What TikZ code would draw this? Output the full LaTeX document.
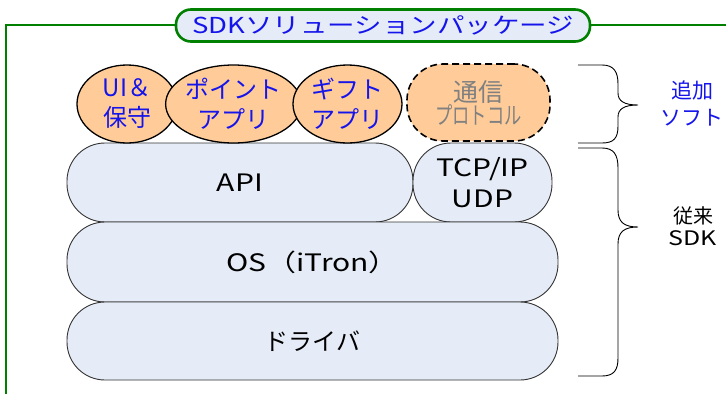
\documentclass[tikz,border=0pt]{standalone}
\usepackage{fontspec}
\setmainfont{Noto Sans CJK JP}
\newfontfamily\widejp[FakeStretch=1.25]{Noto Sans CJK JP}
\newfontfamily\narrowjp[FakeStretch=0.72]{Noto Sans CJK JP}
\usetikzlibrary{shapes.geometric}
\definecolor{framegreen}{RGB}{0,128,0}
\definecolor{titleblue}{RGB}{20,20,235}
\definecolor{layerblue}{RGB}{230,236,247}
\definecolor{apporange}{RGB}{255,204,153}
\definecolor{protogray}{RGB}{128,128,128}

\begin{document}
\begin{tikzpicture}[
		x=1pt, y=-1pt,
		every node/.style={inner sep=0pt, align=center},
		layer/.style={draw=black!80, fill=layerblue, rounded corners=38pt, line width=0.9pt,
			font=\fontsize{24}{31}\selectfont},
		app/.style={ellipse, draw, fill=apporange, line width=1.3pt, minimum height=78pt,
			text=titleblue, font=\fontsize{24}{30}\selectfont},
		brace/.style={line width=0.9pt},
		side/.style={font=\fontsize{21}{27}\selectfont}
	]
  \useasboundingbox (0,0) rectangle (726,394);
  % frame and title
  \draw[framegreen, line width=1.4pt] (726,25) -- (6,25) -- (6,394);
  \node (title) [draw=framegreen, line width=2.6pt, fill=layerblue, rounded corners=15pt,
    minimum width=414pt, minimum height=32pt, text=titleblue,
    font=\widejp\fontsize{22}{24}\selectfont] at (383,25.5) {SDKソリューションパッケージ};
  % base layers
  \node (api) [layer, minimum width=346pt, minimum height=79pt] at (240,182.5) {\widejp API};
  \node (tcp) [layer, minimum width=139pt, minimum height=79pt] at (482.5,182.5)
    {\widejp TCP/IP\\\widejp UDP};
  \node (os) [layer, minimum width=491pt, minimum height=80pt] at (312.5,262) {\widejp OS（iTron）};
  \node (drv) [layer, minimum width=491pt, minimum height=78pt] at (312.5,341) {ドライバ};
  % added software
  \node (ui) [app, minimum width=100pt] at (127,104) {UI＆\\保守};
  \node (point) [app, minimum width=117pt] at (233.5,104) {ポイント\\アプリ};
  \node (gift) [app, minimum width=109pt] at (347.5,104) {ギフト\\アプリ};
  \node (proto) [draw, dash pattern=on 7pt off 4pt, line width=1.6pt, fill=apporange,
    rounded corners=36pt, minimum width=143pt, minimum height=77pt, text=protogray]
    at (478.5,102.5)
    {\fontsize{25}{35}\selectfont 通信\\\narrowjp\fontsize{24}{30}\selectfont プロトコル};
  % braces
  \coordinate (addtop) at (578,65);
  \coordinate (addbot) at (578,143);
  \coordinate (sdktop) at (578,148);
  \coordinate (sdkbot) at (578,376);
  \draw[brace] (addtop) -- ++(24,0) .. controls (614,65) and (618,72) .. (618,84)
    -- (618,93) .. controls (618,101) and (624,105) .. (638,105)
    .. controls (624,105) and (618,109) .. (618,117) -- (618,126)
    .. controls (618,138) and (614,143) .. (602,143) -- (addbot);
  \draw[brace] (sdktop) -- ++(24,0) .. controls (614,148) and (618,155) .. (618,168)
    -- (618,210) .. controls (618,222) and (624,227) .. (638,227)
    .. controls (624,227) and (618,232) .. (618,244) -- (618,358)
    .. controls (618,370) and (614,376) .. (602,376) -- (sdkbot);
  % side labels
  \node (addlbl) [side, text=titleblue] at (692,103.5) {追加\\ソフト};
  \node (sdklbl) [side, font=\fontsize{20}{22}\selectfont] at (693,226) {従来\\\widejp SDK};
\end{tikzpicture}
\end{document}
